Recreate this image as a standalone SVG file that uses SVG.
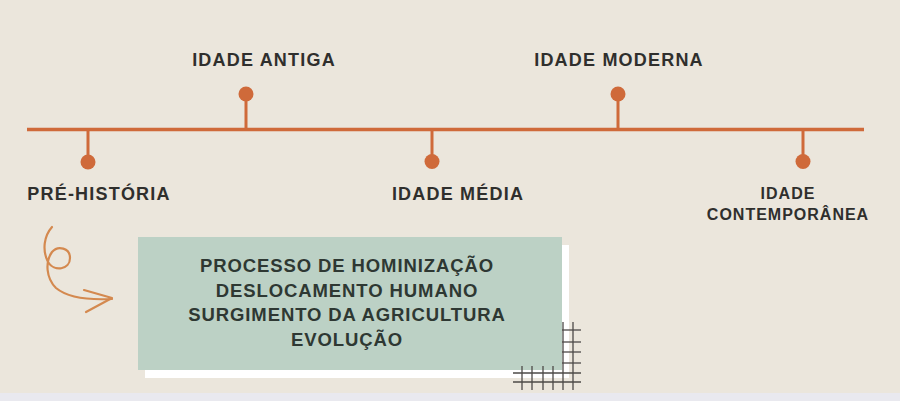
<svg xmlns="http://www.w3.org/2000/svg" width="900" height="401" viewBox="0 0 900 401">
<defs>
<style>
.lbl{font-family:"Liberation Sans",Arial,sans-serif;font-weight:bold;fill:#2f2f2d;}
.big{font-size:18px;letter-spacing:1.2px;}
.sm{font-size:16px;letter-spacing:1px;}
.box{font-family:"Liberation Sans",Arial,sans-serif;font-weight:bold;fill:#2e3833;font-size:18.5px;letter-spacing:0.9px;}
.tl{stroke:#cf6a3a;stroke-width:3.5;fill:none;}
.tick{stroke:#cf6a3a;stroke-width:3;}
.dot{fill:#cf6a3a;}
.grid{stroke:#4d4a47;stroke-width:1.3;}
</style>
</defs>
<rect x="0" y="0" width="900" height="401" fill="#ebe6dc"/>
<rect x="0" y="393" width="900" height="8" fill="#e9e9ef"/>

<g id="connectors">
<line class="tl" x1="27" y1="129.5" x2="864" y2="129.5"/>
</g>

<g id="pre-historia">
<line class="tick" x1="88" y1="129" x2="88" y2="160"/>
<circle class="dot" cx="88" cy="162" r="7.5"/>
<text class="lbl big" x="99" y="200" text-anchor="middle">PRÉ-HISTÓRIA</text>
</g>
<g id="idade-antiga">
<line class="tick" x1="246" y1="130" x2="246" y2="96"/>
<circle class="dot" cx="246" cy="94" r="7.5"/>
<text class="lbl big" x="264" y="66" text-anchor="middle">IDADE ANTIGA</text>
</g>
<g id="idade-media">
<line class="tick" x1="432" y1="129" x2="432" y2="160"/>
<circle class="dot" cx="432" cy="161.5" r="7.5"/>
<text class="lbl big" x="458" y="200" text-anchor="middle">IDADE MÉDIA</text>
</g>
<g id="idade-moderna">
<line class="tick" x1="618" y1="130" x2="618" y2="96"/>
<circle class="dot" cx="618" cy="94" r="7.5"/>
<text class="lbl big" x="619" y="66" text-anchor="middle">IDADE MODERNA</text>
</g>
<g id="idade-contemporanea">
<line class="tick" x1="803" y1="129" x2="803" y2="160"/>
<circle class="dot" cx="803" cy="161.5" r="7.5"/>
<text class="lbl sm" x="788" y="199" text-anchor="middle">IDADE</text>
<text class="lbl sm" x="788" y="220" text-anchor="middle">CONTEMPORÂNEA</text>
</g>

<g id="swirl" fill="none" stroke="#d4894f" stroke-width="2.2" stroke-linecap="round" stroke-linejoin="round">
<path d="M52,227 C44,236 42,250 48,262 C54,272 70,270 70,258 C70,248 58,245 52,252 C45,262 46,278 56,288 C68,298 92,300 112,299"/>
<path d="M84,290 L112,298 L86,312"/>
</g>

<g id="content-box">
<rect x="145" y="245" width="424" height="133" fill="#ffffff"/>
<rect x="138" y="237" width="424" height="133" fill="#bcd1c5"/>
<text class="box" x="347" y="272" text-anchor="middle">PROCESSO DE HOMINIZAÇÃO</text>
<text class="box" x="347" y="297" text-anchor="middle">DESLOCAMENTO HUMANO</text>
<text class="box" x="347" y="321" text-anchor="middle">SURGIMENTO DA AGRICULTURA</text>
<text class="box" x="347" y="346" text-anchor="middle">EVOLUÇÃO</text>
</g>

<g id="grid" class="grid">
<line x1="563" y1="322" x2="563" y2="390"/>
<line x1="573" y1="322" x2="573" y2="390"/>
<line x1="562" y1="330" x2="581" y2="330"/>
<line x1="562" y1="342" x2="581" y2="342"/>
<line x1="562" y1="352" x2="581" y2="352"/>
<line x1="562" y1="363" x2="581" y2="363"/>
<line x1="513" y1="373" x2="581" y2="373"/>
<line x1="513" y1="382" x2="581" y2="382"/>
<line x1="522" y1="366" x2="522" y2="390"/>
<line x1="532" y1="366" x2="532" y2="390"/>
<line x1="543" y1="366" x2="543" y2="390"/>
<line x1="553" y1="366" x2="553" y2="390"/>
</g>
</svg>
